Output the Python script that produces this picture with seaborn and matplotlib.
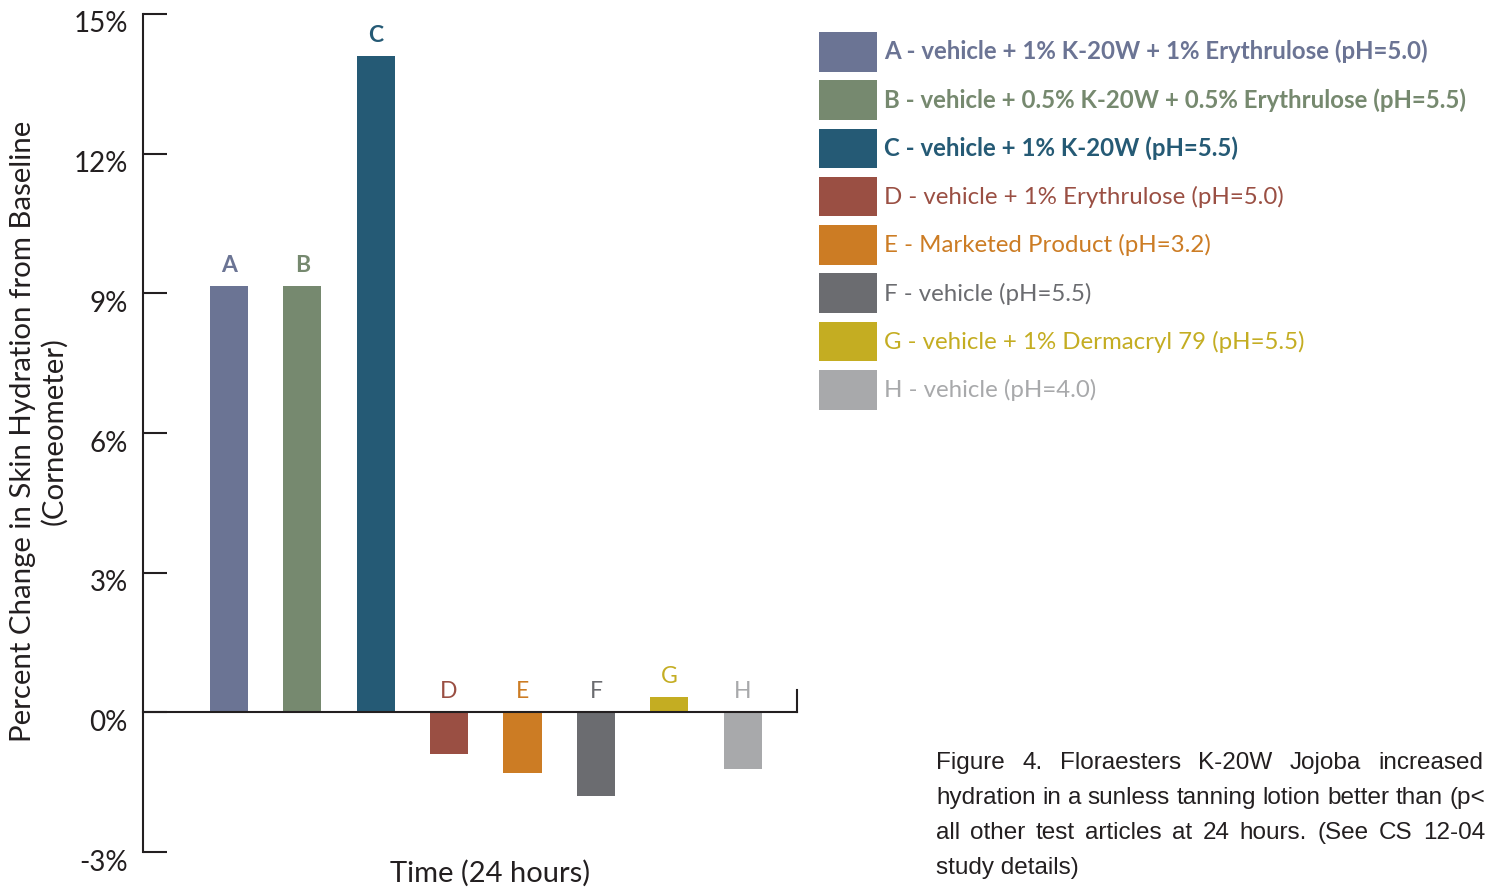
import matplotlib
matplotlib.use("Agg")
import matplotlib.pyplot as plt
import matplotlib.transforms as mtransforms
from matplotlib.patches import Patch
import seaborn as sns

# data
letters = ["A", "B", "C", "D", "E", "F", "G", "H"]
values = [9.15, 9.15, 14.1, -0.9, -1.3, -1.8, 0.32, -1.22]
colors = ["#6b7494", "#76896f", "#255a75", "#9a4f43",
          "#cc7c24", "#6b6c70", "#c4ad22", "#a8a9ab"]
legend_labels = [
    "A - vehicle + 1% K-20W + 1% Erythrulose (pH=5.0)",
    "B - vehicle + 0.5% K-20W + 0.5% Erythrulose (pH=5.5)",
    "C - vehicle + 1% K-20W (pH=5.5)",
    "D - vehicle + 1% Erythrulose (pH=5.0)",
    "E - Marketed Product (pH=3.2)",
    "F - vehicle (pH=5.5)",
    "G - vehicle + 1% Dermacryl 79 (pH=5.5)",
    "H - vehicle (pH=4.0)",
]
bold = [True, True, True, False, False, False, False, False]
yticks = [-3, 0, 3, 6, 9, 12, 15]
caption = [
    "Figure 4. Floraesters K-20W Jojoba increased",
    "hydration in a sunless tanning lotion better than (p<",
    "all other test articles at 24 hours.  (See CS 12-04",
    "study details)",
]
caption_right = [1483, 1485, 1485, None]  # justified right edge (px), None = ragged

sns.set_style("white")
plt.rcParams["font.family"] = ["Lato", "DejaVu Sans"]
ink = "#231f20"

W, H = 1488, 888
fig = plt.figure(figsize=(W / 100, H / 100), dpi=100)
ax = fig.add_axes([143 / W, 1 - 852 / H, (797 - 143) / W, (852 - 14) / H])

sns.barplot(x=letters, y=values, hue=letters, palette=colors, width=0.52,
            saturation=1, legend=False, ax=ax, linewidth=0)

ax.set_xlim(-1.17, 7.74)
ax.set_ylim(-3, 15)
ax.set_xticks([])
ax.set_xlabel("")
ax.set_ylabel("")

ax.set_yticks(yticks)
ax.set_yticklabels([f"{v}%" for v in yticks], fontsize=20, color=ink)
ax.tick_params(axis="y", direction="in", length=17, width=1.5, color=ink,
               pad=11, left=True)
shift = mtransforms.ScaledTranslation(0, -8 / 100, fig.dpi_scale_trans)
for lab in ax.get_yticklabels():
    lab.set_transform(lab.get_transform() + shift)

for side in ["left", "bottom", "right"]:
    ax.spines[side].set_color(ink)
    ax.spines[side].set_linewidth(1.5)
ax.spines["top"].set_visible(False)
ax.spines["bottom"].set_position(("data", 0))
ax.spines["right"].set_bounds(0, 0.47)

# letters over the bars
for i, (l, v) in enumerate(zip(letters, values)):
    y = max(v, 0) + 0.3
    ax.text(i, y, l, ha="center", va="baseline", fontsize=16.5, color=colors[i],
            fontweight="bold" if bold[i] else "normal")

fig.text(39 / W, 1 - 431 / H,
         "Percent Change in Skin Hydration from Baseline\n(Corneometer)",
         rotation=90, ha="center", va="center", ma="center", fontsize=21.2,
         linespacing=1.2, color=ink)
fig.text(490 / W, 1 - 873 / H, "Time (24 hours)", ha="center", va="center",
         fontsize=21, color=ink)

handles = [Patch(facecolor=c, edgecolor="none") for c in colors]
leg = fig.legend(handles, legend_labels, loc="upper left",
                 bbox_to_anchor=(819 / W, 1 - 32 / H), frameon=False,
                 fontsize=17.3, handlelength=2.42, handleheight=2.16,
                 labelspacing=0.36, handletextpad=0.3, borderpad=0,
                 borderaxespad=0, labelcolor=colors)
for t, b in zip(leg.get_texts(), bold):
    if b:
        t.set_fontweight("bold")

# justified caption, word by word
fig.canvas.draw()
renderer = fig.canvas.get_renderer()
cap_font = dict(fontsize=17.5, color=ink, va="center", ha="left",
                family=["Liberation Sans Narrow", "Liberation Sans"])
for k, (line, right) in enumerate(zip(caption, caption_right)):
    y = 1 - (763 + 35 * k) / H
    if right is None:
        fig.text(936 / W, y, line, **cap_font)
        continue
    words = [w for w in line.split(" ") if w]
    widths = []
    for w in words:
        t = fig.text(0, 0, w, **cap_font)
        widths.append(t.get_window_extent(renderer).width)
        t.remove()
    gap = (right - 936 - sum(widths)) / (len(words) - 1)
    x = 936
    for w, wd in zip(words, widths):
        fig.text(x / W, y, w, **cap_font)
        x += wd + gap

fig.savefig("out.png", dpi=100)
